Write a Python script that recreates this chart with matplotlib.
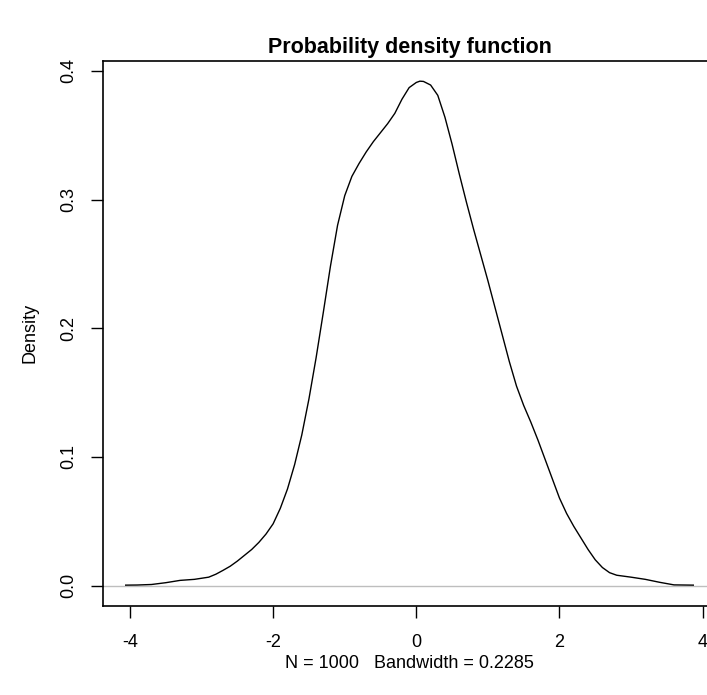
import numpy as np
import matplotlib
matplotlib.use('Agg')
import matplotlib.pyplot as plt

plt.rcParams['font.family'] = ['Liberation Sans', 'DejaVu Sans']

# ── Density estimate (x, density) ────────────────────────────────────
x_vals = [-4.06, -3.9, -3.7, -3.5, -3.3, -3.1, -2.9, -2.8, -2.7, -2.6,
          -2.5, -2.4, -2.3, -2.2, -2.1, -2.0, -1.9, -1.8, -1.7, -1.6,
          -1.5, -1.4, -1.3, -1.2, -1.1, -1.0, -0.9, -0.8, -0.7, -0.6,
          -0.5, -0.4, -0.3, -0.2, -0.1, 0.0, 0.05, 0.1, 0.2, 0.3,
          0.4, 0.5, 0.6, 0.7, 0.8, 0.9, 1.0, 1.1, 1.2, 1.3,
          1.4, 1.5, 1.6, 1.7, 1.8, 1.9, 2.0, 2.1, 2.2, 2.3,
          2.4, 2.5, 2.6, 2.7, 2.8, 3.0, 3.2, 3.4, 3.6, 3.87]
dens = [0.0003, 0.0004, 0.0008, 0.0022, 0.0040, 0.0048, 0.0065, 0.0088, 0.0118, 0.015,
        0.019, 0.0235, 0.028, 0.0335, 0.040, 0.048, 0.060, 0.075, 0.094, 0.117,
        0.145, 0.177, 0.212, 0.248, 0.280, 0.303, 0.318, 0.328, 0.337, 0.345,
        0.352, 0.359, 0.367, 0.378, 0.387, 0.391, 0.392, 0.3918, 0.389, 0.381,
        0.364, 0.343, 0.320, 0.298, 0.277, 0.257, 0.237, 0.216, 0.195, 0.174,
        0.155, 0.140, 0.127, 0.113, 0.098, 0.083, 0.068, 0.056, 0.046, 0.037,
        0.028, 0.020, 0.014, 0.010, 0.008, 0.0065, 0.0048, 0.0025, 0.0005, 0.0003]

x_ticks = [-4, -2, 0, 2, 4]
y_ticks = [0.0, 0.1, 0.2, 0.3, 0.4]
y_tick_labels = ['0.0', '0.1', '0.2', '0.3', '0.4']
title = 'Probability density function'
xlab = 'N = 1000   Bandwidth = 0.2285'
ylab = 'Density'

W, H = 707, 695
fig = plt.figure(figsize=(W / 100, H / 100), dpi=100)
# plot region (pixels): left 103, right 716 (past the image edge), top 61, bottom 605.7
ax = fig.add_axes([103 / W, (H - 605.7) / H, (716 - 103) / W, (605.7 - 61) / H])

# R-style limits: data range padded 4%
xr = max(x_vals) - min(x_vals)
ax.set_xlim(min(x_vals) - 0.04 * xr, max(x_vals) + 0.04 * xr)
yr = max(dens)
ax.set_ylim(-0.04 * yr, yr + 0.04 * yr)

ax.axhline(0, color='#bebebe', lw=1.0, zorder=1)
ax.plot(x_vals, dens, color='black', lw=1.0, zorder=2)

for s in ax.spines.values():
    s.set_linewidth(1.2)
ax.set_xticks(x_ticks)
ax.set_xticklabels([str(t) for t in x_ticks])
ax.set_yticks(y_ticks)
ax.set_yticklabels(y_tick_labels, rotation=90, va='center')
ax.tick_params(direction='out', length=8.5, width=1.0, labelsize=13)
ax.tick_params(axis='x', pad=12)
ax.tick_params(axis='y', pad=10)

fig.text(409.5 / W, 1 - 47 / H, title, ha='center', va='center',
         fontsize=15.5, fontweight='bold')
fig.text(409.5 / W, 1 - 663 / H, xlab, ha='center', va='center', fontsize=13)
fig.text(30 / W, 1 - 333 / H, ylab, ha='center', va='center', rotation=90,
         fontsize=13)

fig.savefig('out.png', dpi=100)
